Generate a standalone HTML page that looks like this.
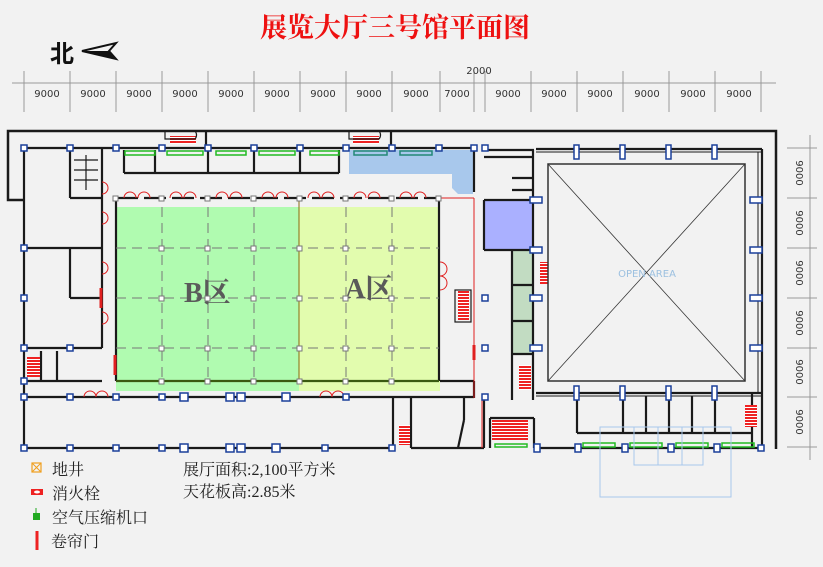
<!DOCTYPE html>
<html><head><meta charset="utf-8"><style>
html,body{margin:0;padding:0;background:#f2f2f2;}
svg{display:block}
</style></head><body>
<svg width="823" height="567" viewBox="0 0 823 567" xmlns="http://www.w3.org/2000/svg">
<defs>
<pattern id="st" width="3" height="3" patternUnits="userSpaceOnUse"><rect width="3" height="3" fill="#fff"/><rect width="3" height="2" fill="#ee2222"/></pattern>
</defs>
<rect width="823" height="567" fill="#f2f2f2"/>
<text x="395" y="37" text-anchor="middle" font-family="Liberation Serif,'Noto Serif CJK SC',serif" font-weight="bold" font-size="27" fill="#ee1111">展览大厅三号馆平面图</text>
<text x="50" y="62" font-family="'Noto Sans CJK SC',sans-serif" font-weight="bold" font-size="24" fill="#111">北</text>
<polygon points="82,51 116,43 109,51 116,59" fill="none" stroke="#111" stroke-width="2"/>
<polygon points="82,51 109,51 116,59" fill="#111"/>
<g stroke="#999" stroke-width="1">
<line x1="12" y1="83" x2="776" y2="83"/>
<line x1="24" y1="71" x2="24" y2="112"/><line x1="70" y1="71" x2="70" y2="112"/><line x1="116" y1="71" x2="116" y2="112"/><line x1="162" y1="71" x2="162" y2="112"/><line x1="208" y1="71" x2="208" y2="112"/><line x1="254" y1="71" x2="254" y2="112"/><line x1="300" y1="71" x2="300" y2="112"/><line x1="346" y1="71" x2="346" y2="112"/><line x1="392" y1="71" x2="392" y2="112"/><line x1="440" y1="71" x2="440" y2="112"/><line x1="474" y1="71" x2="474" y2="112"/><line x1="485" y1="71" x2="485" y2="112"/><line x1="531" y1="71" x2="531" y2="112"/><line x1="577" y1="71" x2="577" y2="112"/><line x1="623" y1="71" x2="623" y2="112"/><line x1="669" y1="71" x2="669" y2="112"/><line x1="715" y1="71" x2="715" y2="112"/><line x1="761" y1="71" x2="761" y2="112"/>
<line x1="810" y1="135" x2="810" y2="460"/>
<line x1="787" y1="148" x2="817" y2="148"/><line x1="787" y1="198" x2="817" y2="198"/><line x1="787" y1="248" x2="817" y2="248"/><line x1="787" y1="298" x2="817" y2="298"/><line x1="787" y1="348" x2="817" y2="348"/><line x1="787" y1="397" x2="817" y2="397"/><line x1="787" y1="447" x2="817" y2="447"/>
</g>
<g font-family="'DejaVu Sans',sans-serif" font-size="10" fill="#333" text-anchor="middle">
<text x="479" y="74">2000</text>
<text x="47" y="97">9000</text><text x="93" y="97">9000</text><text x="139" y="97">9000</text><text x="185" y="97">9000</text><text x="231" y="97">9000</text><text x="277" y="97">9000</text><text x="323" y="97">9000</text><text x="369" y="97">9000</text><text x="416" y="97">9000</text><text x="457" y="97">7000</text><text x="508" y="97">9000</text><text x="554" y="97">9000</text><text x="600" y="97">9000</text><text x="647" y="97">9000</text><text x="693" y="97">9000</text><text x="739" y="97">9000</text>
<g transform="rotate(90)">
<text x="173" y="-796">9000</text><text x="223" y="-796">9000</text><text x="273" y="-796">9000</text><text x="323" y="-796">9000</text><text x="372" y="-796">9000</text><text x="422" y="-796">9000</text>
</g>
</g>
<rect x="116" y="207" width="183" height="184" fill="#b0fbb0"/>
<rect x="299" y="207" width="141" height="184" fill="#e2fcae"/>
<polygon points="349,150 473,150 473,194 458,194 452,188 452,174 349,174" fill="#a8c8ec"/>
<rect x="484" y="200" width="49" height="50" fill="#aab0ff"/>
<rect x="512" y="250" width="21" height="104" fill="#c2dcc2"/>
<polyline points="24,200 8,200 8,131 776,131 776,449" fill="none" stroke="#1a1a1a" stroke-width="2.5"/>
<g stroke="#1a1a1a" stroke-width="2.2" fill="none">
<line x1="24" y1="148" x2="24" y2="448"/>
<line x1="24" y1="148" x2="474" y2="148"/>
<line x1="102" y1="148" x2="102" y2="348"/>
<line x1="70" y1="148" x2="70" y2="198"/>
<line x1="70" y1="198" x2="102" y2="198"/>
<line x1="24" y1="248" x2="102" y2="248"/>
<line x1="70" y1="298" x2="102" y2="298"/>
<line x1="70" y1="248" x2="70" y2="298"/>
<line x1="24" y1="348" x2="102" y2="348"/>
<line x1="116" y1="198" x2="440" y2="198" stroke-dasharray="22,6"/>
<line x1="116" y1="198" x2="116" y2="381"/>
<line x1="439" y1="198" x2="439" y2="381"/>
<line x1="116" y1="381" x2="439" y2="381" stroke="#3a5a10"/>
<line x1="24" y1="397" x2="474" y2="397"/>
<line x1="24" y1="448" x2="393" y2="448"/>
<line x1="393" y1="397" x2="393" y2="448"/>
<line x1="411" y1="397" x2="411" y2="448"/>
<line x1="124" y1="173" x2="339" y2="173"/>
<line x1="124" y1="150" x2="124" y2="173"/><line x1="155" y1="150" x2="155" y2="173"/><line x1="208" y1="150" x2="208" y2="173"/><line x1="254" y1="150" x2="254" y2="173"/><line x1="300" y1="150" x2="300" y2="173"/><line x1="339" y1="150" x2="339" y2="173"/>
<line x1="206" y1="131" x2="206" y2="148"/><line x1="391" y1="131" x2="391" y2="148"/>
<line x1="474" y1="148" x2="474" y2="192"/>
<line x1="484" y1="150" x2="534" y2="150"/>
<line x1="484" y1="157" x2="534" y2="157"/>
<line x1="484" y1="200" x2="484" y2="250"/>
<line x1="484" y1="200" x2="533" y2="200"/>
<line x1="484" y1="250" x2="533" y2="250"/>
<line x1="533" y1="150" x2="533" y2="400"/>
<line x1="512" y1="250" x2="512" y2="400"/>
<line x1="512" y1="285" x2="533" y2="285"/><line x1="512" y1="321" x2="533" y2="321"/><line x1="512" y1="354" x2="533" y2="354"/>
<line x1="512" y1="178" x2="533" y2="178"/><line x1="512" y1="190" x2="533" y2="190"/>
<line x1="474" y1="381" x2="474" y2="398"/>
<line x1="484" y1="398" x2="484" y2="448"/>
<line x1="464" y1="398" x2="464" y2="420"/>
<line x1="464" y1="420" x2="458" y2="448"/>
<line x1="440" y1="381" x2="474" y2="381"/>
<line x1="490" y1="418" x2="534" y2="418"/>
<line x1="534" y1="418" x2="534" y2="448"/>
<line x1="490" y1="418" x2="490" y2="448"/>
<line x1="411" y1="448" x2="484" y2="448"/>
<line x1="534" y1="448" x2="762" y2="448"/>
<line x1="536" y1="149" x2="762" y2="149"/><line x1="536" y1="152" x2="762" y2="152" stroke-width="1"/>
<line x1="762" y1="149" x2="762" y2="448"/><line x1="758" y1="152" x2="758" y2="393" stroke-width="1"/>
<line x1="536" y1="393" x2="762" y2="393"/><line x1="536" y1="396" x2="762" y2="396" stroke-width="1"/>
<line x1="577" y1="396" x2="577" y2="433"/>
<line x1="577" y1="433" x2="752" y2="433"/>
<line x1="623" y1="396" x2="623" y2="433"/><line x1="646" y1="396" x2="646" y2="433"/><line x1="669" y1="396" x2="669" y2="433"/><line x1="692" y1="396" x2="692" y2="433"/><line x1="715" y1="396" x2="715" y2="433"/>
<line x1="752" y1="393" x2="752" y2="448"/>
<line x1="41" y1="351" x2="41" y2="381"/><line x1="57" y1="351" x2="57" y2="381"/>
<line x1="24" y1="381" x2="102" y2="381"/>
</g>
<g stroke="#e02020" stroke-width="1" fill="none">
<line x1="474" y1="198" x2="474" y2="398"/>
<line x1="440" y1="198" x2="474" y2="198"/>
<line x1="482" y1="398" x2="482" y2="448"/>
<line x1="101" y1="288" x2="101" y2="308" stroke-width="3"/>
<line x1="115" y1="355" x2="115" y2="375" stroke-width="3"/>
<line x1="474" y1="345" x2="474" y2="360" stroke-width="3"/>
<path d="M124,198 a6,6 0 0 1 12,0 M138,198 a6,6 0 0 1 12,0 M170,198 a6,6 0 0 1 12,0 M184,198 a6,6 0 0 1 12,0 M216,198 a6,6 0 0 1 12,0 M230,198 a6,6 0 0 1 12,0 M262,198 a6,6 0 0 1 12,0 M276,198 a6,6 0 0 1 12,0 M308,198 a6,6 0 0 1 12,0 M322,198 a6,6 0 0 1 12,0 M354,198 a6,6 0 0 1 12,0 M368,198 a6,6 0 0 1 12,0 M400,198 a6,6 0 0 1 12,0 M414,198 a6,6 0 0 1 12,0"/>
<path d="M102,212 a6,6 0 0 1 0,12 M102,262 a6,6 0 0 1 0,12 M102,312 a6,6 0 0 1 0,12 M102,182 a6,6 0 0 1 0,12 M440,262 a7,7 0 0 1 0,14 M440,276 a7,7 0 0 1 0,14"/>
<path d="M84,397 a6,6 0 0 1 12,0 M96,397 a6,6 0 0 1 12,0 M320,397 a6,6 0 0 1 12,0 M332,397 a6,6 0 0 1 12,0"/>
</g>
<g fill="url(#st)">
<rect x="170" y="136" width="26" height="8"/><rect x="353" y="136" width="26" height="8"/>
<rect x="458" y="290" width="11" height="30"/><rect x="540" y="262" width="8" height="22"/>
<rect x="519" y="365" width="12" height="25"/><rect x="27" y="357" width="13" height="20"/>
<rect x="399" y="425" width="11" height="20"/><rect x="492" y="420" width="36" height="20"/>
<rect x="745" y="405" width="12" height="22"/>
</g>
<g stroke="#1a1a1a" stroke-width="1.2" fill="none">
<path d="M165,131 v8 h30 a6,6 0 0 0 0,-8"/><path d="M349,131 v8 h30 a6,6 0 0 0 0,-8"/>
<line x1="74" y1="160" x2="98" y2="160"/><line x1="74" y1="170" x2="98" y2="170"/><line x1="74" y1="180" x2="98" y2="180"/><line x1="86" y1="155" x2="86" y2="190"/>
<rect x="455" y="290" width="16" height="32"/>
</g>
<g fill="none" stroke="#22bb22" stroke-width="1.5">
<rect x="125" y="151" width="30" height="4"/><rect x="167" y="151" width="36" height="4"/><rect x="216" y="151" width="30" height="4"/><rect x="259" y="151" width="36" height="4"/><rect x="310" y="151" width="29" height="4"/>
<rect x="583" y="443" width="32" height="4"/><rect x="630" y="443" width="32" height="4"/><rect x="676" y="443" width="32" height="4"/><rect x="722" y="443" width="32" height="4"/><rect x="495" y="444" width="32" height="3"/>
</g>
<g fill="none" stroke="#228877" stroke-width="1.5"><rect x="354" y="151" width="33" height="4"/><rect x="400" y="151" width="32" height="4"/></g>
<g stroke="#333" fill="none">
<rect x="548" y="164" width="197" height="217" stroke-width="1.5"/>
<line x1="548" y1="164" x2="745" y2="381" stroke-width="0.8"/><line x1="745" y1="164" x2="548" y2="381" stroke-width="0.8"/>
</g>
<text x="647" y="277" text-anchor="middle" font-family="'DejaVu Sans',sans-serif" font-size="10" fill="#9cc0e0">OPEN    AREA</text>
<g stroke="#a8c8ec" fill="none" stroke-width="1">
<rect x="600" y="427" width="131" height="70"/>
<polyline points="634,427 634,465 703,465 703,427"/>
<line x1="658" y1="427" x2="658" y2="465"/><line x1="682" y1="427" x2="682" y2="465"/>
</g>
<g stroke="#777" stroke-width="1" stroke-dasharray="10,6">
<line x1="116" y1="248" x2="439" y2="248"/><line x1="116" y1="298" x2="439" y2="298"/><line x1="116" y1="348" x2="439" y2="348"/>
<line x1="162" y1="207" x2="162" y2="381"/><line x1="208" y1="207" x2="208" y2="381"/><line x1="254" y1="207" x2="254" y2="381"/><line x1="346" y1="207" x2="346" y2="381"/><line x1="392" y1="207" x2="392" y2="381"/>
</g>
<line x1="299" y1="198" x2="299" y2="381" stroke="#8a6a10" stroke-width="1"/>
<g font-family="Liberation Serif,'Noto Serif CJK SC',serif" font-weight="bold" font-size="28" fill="#5a5a5a">
<text x="184" y="302">B区</text><text x="345" y="298">A区</text>
</g>
<g fill="#fff" stroke="#1a3f9a" stroke-width="1.5">
<rect x="21" y="145" width="6" height="6"/><rect x="67" y="145" width="6" height="6"/><rect x="113" y="145" width="6" height="6"/><rect x="159" y="145" width="6" height="6"/><rect x="205" y="145" width="6" height="6"/><rect x="251" y="145" width="6" height="6"/><rect x="297" y="145" width="6" height="6"/><rect x="343" y="145" width="6" height="6"/><rect x="389" y="145" width="6" height="6"/><rect x="436" y="145" width="6" height="6"/><rect x="471" y="145" width="6" height="6"/><rect x="482" y="145" width="6" height="6"/>
<rect x="21" y="245" width="6" height="6"/><rect x="21" y="295" width="6" height="6"/><rect x="21" y="345" width="6" height="6"/><rect x="21" y="378" width="6" height="6"/><rect x="21" y="394" width="6" height="6"/><rect x="21" y="445" width="6" height="6"/>
<rect x="67" y="345" width="6" height="6"/><rect x="67" y="394" width="6" height="6"/><rect x="67" y="445" width="6" height="6"/>
<rect x="113" y="394" width="6" height="6"/><rect x="113" y="445" width="6" height="6"/><rect x="159" y="394" width="6" height="6"/><rect x="159" y="445" width="6" height="6"/>
<rect x="180" y="393" width="8" height="8"/><rect x="226" y="393" width="8" height="8"/><rect x="237" y="393" width="8" height="8"/><rect x="282" y="393" width="8" height="8"/>
<rect x="180" y="444" width="8" height="8"/><rect x="226" y="444" width="8" height="8"/><rect x="237" y="444" width="8" height="8"/><rect x="272" y="444" width="8" height="8"/>
<rect x="343" y="394" width="6" height="6"/><rect x="322" y="445" width="6" height="6"/><rect x="389" y="445" width="6" height="6"/>
<rect x="482" y="295" width="6" height="6"/><rect x="482" y="345" width="6" height="6"/><rect x="482" y="394" width="6" height="6"/>
<rect x="530" y="197" width="12" height="6"/><rect x="530" y="247" width="12" height="6"/><rect x="530" y="295" width="12" height="6"/><rect x="530" y="345" width="12" height="6"/>
<rect x="574" y="145" width="5" height="14"/><rect x="620" y="145" width="5" height="14"/><rect x="666" y="145" width="5" height="14"/><rect x="712" y="145" width="5" height="14"/>
<rect x="750" y="197" width="12" height="6"/><rect x="750" y="247" width="12" height="6"/><rect x="750" y="295" width="12" height="6"/><rect x="750" y="345" width="12" height="6"/>
<rect x="574" y="386" width="5" height="14"/><rect x="620" y="386" width="5" height="14"/><rect x="666" y="386" width="5" height="14"/><rect x="712" y="386" width="5" height="14"/>
<rect x="575" y="444" width="6" height="8"/><rect x="622" y="444" width="6" height="8"/><rect x="668" y="444" width="6" height="8"/><rect x="714" y="444" width="6" height="8"/><rect x="758" y="445" width="6" height="6"/><rect x="534" y="444" width="6" height="8"/>
</g>
<g fill="#fff" stroke="#777" stroke-width="1">
<rect x="113" y="196" width="5" height="5"/><rect x="159" y="196" width="5" height="5"/><rect x="205" y="196" width="5" height="5"/><rect x="251" y="196" width="5" height="5"/><rect x="297" y="196" width="5" height="5"/><rect x="343" y="196" width="5" height="5"/><rect x="389" y="196" width="5" height="5"/><rect x="436" y="196" width="5" height="5"/>
<rect x="159" y="246" width="5" height="5"/><rect x="205" y="246" width="5" height="5"/><rect x="251" y="246" width="5" height="5"/><rect x="297" y="246" width="5" height="5"/><rect x="343" y="246" width="5" height="5"/><rect x="389" y="246" width="5" height="5"/>
<rect x="159" y="296" width="5" height="5"/><rect x="205" y="296" width="5" height="5"/><rect x="251" y="296" width="5" height="5"/><rect x="297" y="296" width="5" height="5"/><rect x="343" y="296" width="5" height="5"/><rect x="389" y="296" width="5" height="5"/>
<rect x="159" y="346" width="5" height="5"/><rect x="205" y="346" width="5" height="5"/><rect x="251" y="346" width="5" height="5"/><rect x="297" y="346" width="5" height="5"/><rect x="343" y="346" width="5" height="5"/><rect x="389" y="346" width="5" height="5"/>
<rect x="159" y="379" width="5" height="5"/><rect x="205" y="379" width="5" height="5"/><rect x="251" y="379" width="5" height="5"/><rect x="297" y="379" width="5" height="5"/><rect x="343" y="379" width="5" height="5"/><rect x="389" y="379" width="5" height="5"/>
</g>
<rect x="32" y="463" width="9" height="9" fill="none" stroke="#f0a020" stroke-width="1.2"/>
<path d="M32,463 l9,9 M41,463 l-9,9" stroke="#f0a020" stroke-width="1"/>
<rect x="31" y="489" width="12" height="6" fill="#ee2222"/><ellipse cx="37" cy="492" rx="3" ry="1.5" fill="#fff"/>
<rect x="33" y="513" width="7" height="7" fill="#22aa22"/><line x1="36" y1="508" x2="36" y2="513" stroke="#22aa22"/>
<line x1="37" y1="531" x2="37" y2="550" stroke="#ee2222" stroke-width="3"/>
<g font-family="Liberation Serif,'Noto Serif CJK SC',serif" font-size="16" fill="#222">
<text x="52" y="475">地井</text><text x="52" y="499">消火栓</text><text x="52" y="523">空气压缩机口</text><text x="51" y="547">卷帘门</text>
<text x="183" y="475">展厅面积:2,100平方米</text><text x="183" y="497">天花板高:2.85米</text>
</g>
</svg>
</body></html>
